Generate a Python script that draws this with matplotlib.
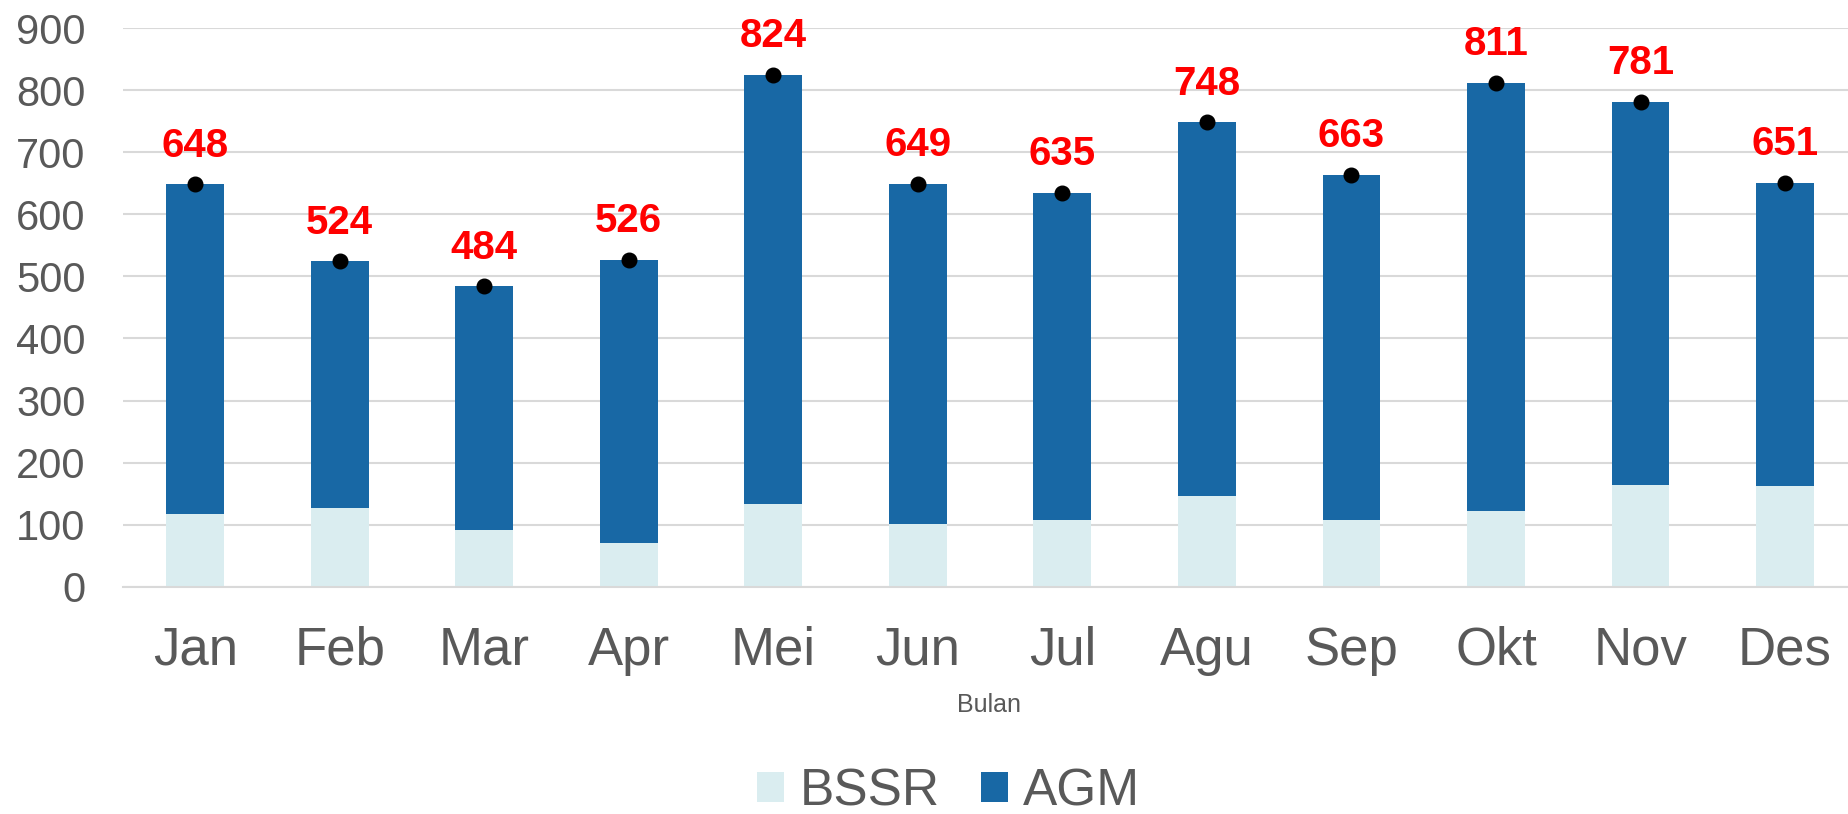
import matplotlib
matplotlib.use("Agg")
import matplotlib.pyplot as plt
import numpy as np

plt.rcParams['font.family'] = ['Liberation Sans', 'DejaVu Sans']

months = ["Jan", "Feb", "Mar", "Apr", "Mei", "Jun", "Jul", "Agu", "Sep", "Okt", "Nov", "Des"]
total = [648, 524, 484, 526, 824, 649, 635, 748, 663, 811, 781, 651]
bssr = [118, 127, 91, 70, 133, 102, 107, 147, 108, 122, 164, 163]
agm = [t - b for t, b in zip(total, bssr)]

c_bssr = "#daedf0"
c_agm = "#1868a5"
gray = "#595959"

fig = plt.figure(figsize=(18.49, 8.14), dpi=100)
ax = fig.add_axes([0.0665, 0.279, 0.938, 0.6866])

x = np.arange(len(months))
ax.bar(x, bssr, width=0.4, color=c_bssr, label="BSSR", zorder=2)
ax.bar(x, agm, width=0.4, bottom=bssr, color=c_agm, label="AGM", zorder=2)
ax.plot(x, total, 'o', color='black', markersize=10.5, zorder=3)

# label total di atas titik
for xi, t in zip(x, total):
    ax.annotate(str(t), (xi, t), xytext=(0, 20), textcoords='offset points',
                ha='center', va='baseline', fontsize=29, fontweight='bold', color='red')

ax.set_xlim(-0.5, 11.5)
ax.set_ylim(0, 900)
ax.set_yticks(range(0, 901, 100))
ax.set_xticks(x)
ax.set_xticklabels(months)
ax.tick_params(axis='y', length=0, pad=27, labelsize=30, labelcolor=gray)
ax.tick_params(axis='x', length=0, pad=28, labelsize=38, labelcolor=gray)
ax.yaxis.grid(True, color='#d9d9d9', linewidth=1.5, zorder=0)
ax.set_axisbelow(True)
for s in ['top', 'right', 'left']:
    ax.spines[s].set_visible(False)
ax.spines['bottom'].set_color('#d9d9d9')
ax.spines['bottom'].set_linewidth(1.5)

fig.text(0.535, 1 - 705 / 814, "Bulan", ha='center', va='center', fontsize=18, color=gray)

handles, labels = ax.get_legend_handles_labels()
leg = fig.legend(handles, labels, loc='center', bbox_to_anchor=(0.513, 1 - 792 / 814), ncol=2,
                 frameon=False, fontsize=37, handlelength=0.53, handleheight=0.53,
                 handletextpad=0.3, columnspacing=0.8, borderpad=0)
for t in leg.get_texts():
    t.set_color(gray)

fig.savefig("out.png", dpi=100)
